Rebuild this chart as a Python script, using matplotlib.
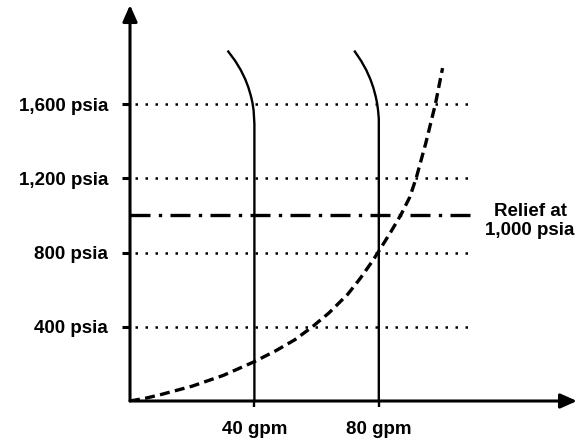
import matplotlib
matplotlib.use("Agg")
import matplotlib.pyplot as plt

plt.rcParams['font.family'] = ['Liberation Sans', 'DejaVu Sans']
plt.rcParams['font.weight'] = 'bold'

# pressure ticks (psia) and flow ticks (gpm)
psia_ticks = [400, 800, 1200, 1600]
psia_labels = ['400 psia', '800 psia', '1,200 psia', '1,600 psia']
gpm_ticks = [40, 80]
gpm_labels = ['40 gpm', '80 gpm']

relief_psia = 1000
relief_label = 'Relief at\n1,000 psia'

# pump curve at 40 gpm (flat flow, bends back at high pressure)
pump40_gpm = [40, 40, 39.74, 39.39, 38.87, 38.08, 37.08, 35.63, 33.82, 31.6]
pump40_psia = [0, 1494, 1567, 1606, 1644, 1689, 1733, 1783, 1833, 1883]

# pump curve at 80 gpm
pump80_gpm = [80, 80, 79.76, 79.44, 78.96, 78.23, 77.31, 75.98, 74.31, 72.3]
pump80_psia = [0, 1522, 1567, 1606, 1644, 1689, 1733, 1783, 1833, 1883]

# system resistance curve (dashed)
sys_gpm = [0, 5, 10, 20, 30, 40, 47, 53, 58.5, 64, 70, 74, 78, 80.3,
           84, 87.1, 90, 92.1, 95.1, 98.2, 100.5]
sys_psia = [0, 15, 35, 80, 138, 212, 272, 330, 398, 475, 575, 660, 755, 815,
            915, 1003, 1100, 1206, 1389, 1600, 1794]

gridline_end = 110.3
relief_end = 111.3

fig = plt.figure(figsize=(5.8, 4.46), dpi=100)
ax = fig.add_axes([130 / 580, 45 / 446, 447 / 580, 396 / 446])
ax.set_xlim(0, 447 / 3.11)
ax.set_ylim(0, 396 / 0.18558)

for s in ax.spines.values():
    s.set_visible(False)

# axes with arrow heads
arrow = dict(arrowstyle='-|>,head_length=0.9,head_width=0.4', lw=2.2,
             color='black', shrinkA=0, shrinkB=0, mutation_scale=11)
ax.annotate('', xy=(0, 1), xytext=(0, 0), xycoords='axes fraction',
            arrowprops=arrow, annotation_clip=False)
ax.annotate('', xy=(1, 0), xytext=(0, 0), xycoords='axes fraction',
            arrowprops=arrow, annotation_clip=False)

# dotted pressure lines
for p in psia_ticks:
    ax.plot([0, gridline_end], [p, p], color='black', lw=1.8,
            linestyle=(6, (1, 3)), clip_on=False)

# relief setting
ax.plot([0, relief_end], [relief_psia, relief_psia], color='black', lw=2.4,
        linestyle=(0, (6, 2.5, 1, 2.5)), clip_on=False)

ax.plot(pump40_gpm, pump40_psia, color='black', lw=1.7)
ax.plot(pump80_gpm, pump80_psia, color='black', lw=1.7)
ax.plot(sys_gpm, sys_psia, color='black', lw=2.4, linestyle=(0, (3, 1.6)))

ax.set_yticks(psia_ticks)
ax.set_yticklabels(psia_labels)
ax.set_xticks(gpm_ticks)
ax.set_xticklabels(gpm_labels)
ax.tick_params(axis='y', direction='out', length=5.8, width=2.2,
               labelsize=13.5, pad=10)
ax.tick_params(axis='x', direction='out', length=4.5, width=1.7,
               labelsize=13.5, pad=10)

ax.annotate(relief_label, xy=(400 / 447, relief_psia),
            xycoords=ax.get_yaxis_transform(), xytext=(0, -4),
            textcoords='offset points', ha='center', va='center',
            fontsize=13.5, fontweight='bold', linespacing=1.15,
            annotation_clip=False)

fig.savefig('out.png', dpi=100, facecolor='white')
